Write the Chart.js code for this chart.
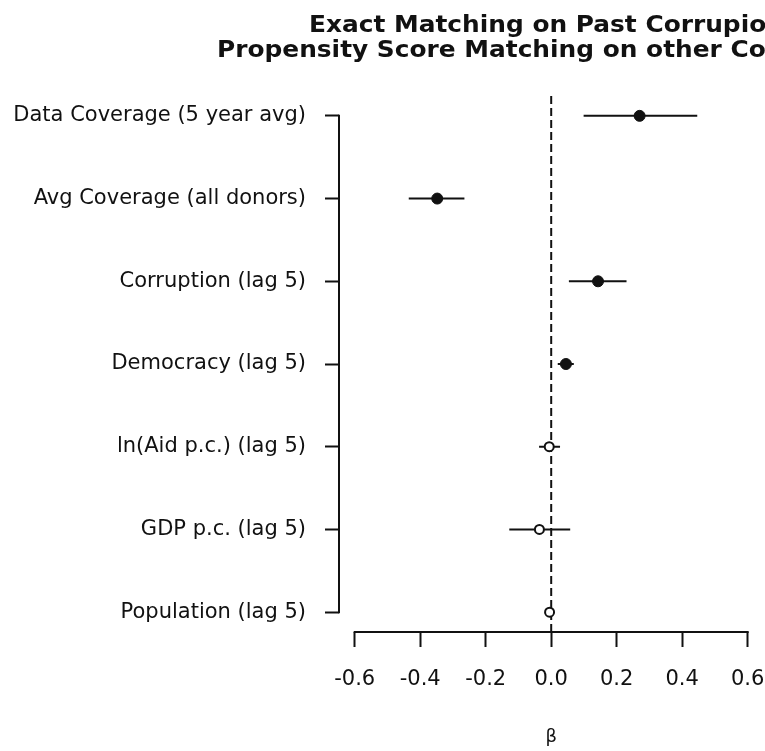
<!DOCTYPE html>
<html>
<head>
<meta charset="utf-8">
<script src="https://cdn.jsdelivr.net/npm/chart.js@4.4.1/dist/chart.umd.min.js"></script>
<style>
  html, body { margin: 0; padding: 0; background: #fff; overflow: hidden; }
  #wrap { width: 765px; height: 751px; overflow: hidden; }
</style>
</head>
<body>
<div id="wrap"><canvas id="chart" width="900" height="751"></canvas></div>
<script>
// Coeficientes (beta) e intervalos, de arriba hacia abajo
const labels = [
  'Data Coverage (5 year avg)',
  'Avg Coverage (all donors)',
  'Corruption (lag 5)',
  'Democracy (lag 5)',
  'ln(Aid p.c.) (lag 5)',
  'GDP p.c. (lag 5)',
  'Population (lag 5)'
];
const estimates = [0.27, -0.348, 0.143, 0.045, -0.006, -0.036, -0.005];
const lower = [0.099, -0.435, 0.054, 0.02, -0.037, -0.128, -0.012];
const upper = [0.446, -0.265, 0.23, 0.069, 0.027, 0.058, 0.002];
const significant = [true, true, true, true, false, false, false];
const xTicks = [-0.6, -0.4, -0.2, 0.0, 0.2, 0.4, 0.6];
const titleLines = ['Exact Matching on Past Corrupion', 'Propensity Score Matching on other Covariates'];

// rango estilo R (4% extra)
const xMin = -0.648, xMax = 0.648;
const yMin = 0.76, yMax = 7.24;

const INK = '#111';
const FONT = "'DejaVu Sans', sans-serif";

const rows = labels.map((_, i) => i + 1);

const ciSets = rows.map((y, i) => ({
  type: 'line',
  data: [{ x: lower[i], y }, { x: upper[i], y }],
  borderColor: INK,
  borderWidth: 2,
  pointRadius: 0,
  order: 2
}));

// titulo (el original va cortado a la derecha)
const titlePlugin = {
  id: 'rTitle',
  afterDraw(chart) {
    const ctx = chart.ctx;
    ctx.save();
    ctx.fillStyle = INK;
    ctx.font = `bold 23px ${FONT}`;
    ctx.textBaseline = 'alphabetic';
    [[titleLines[0], 309, 32], [titleLines[1], 217, 57]].forEach(([t, x, y]) => {
      ctx.save();
      ctx.translate(x, y);
      ctx.scale(1.08, 1);
      ctx.fillText(t, 0, 0);
      ctx.restore();
    });
    ctx.restore();
  }
};

// ejes tipo R: la linea solo cubre el rango de ticks
const axisPlugin = {
  id: 'rAxes',
  afterDraw(chart) {
    const { ctx, chartArea, scales } = chart;
    ctx.save();
    ctx.strokeStyle = INK;
    ctx.lineWidth = 2;
    ctx.lineCap = 'square';
    ctx.beginPath();
    ctx.moveTo(scales.x.getPixelForValue(xTicks[0]), chartArea.bottom);
    ctx.lineTo(scales.x.getPixelForValue(xTicks[xTicks.length - 1]), chartArea.bottom);
    ctx.moveTo(chartArea.left, scales.y.getPixelForValue(rows[0]));
    ctx.lineTo(chartArea.left, scales.y.getPixelForValue(rows[rows.length - 1]));
    ctx.stroke();
    ctx.restore();
  }
};

new Chart(document.getElementById('chart'), {
  type: 'scatter',
  data: {
    datasets: [
      {
        type: 'line',
        data: [{ x: 0, y: yMin }, { x: 0, y: yMax }],
        borderColor: INK,
        borderWidth: 2,
        borderDash: [8, 4],
        pointRadius: 0,
        order: 3
      },
      ...ciSets,
      {
        data: rows.map((y, i) => ({ x: estimates[i], y })),
        pointRadius: significant.map(s => s ? 5.5 : 4.5),
        pointBackgroundColor: significant.map(s => s ? INK : '#fff'),
        pointBorderColor: INK,
        pointBorderWidth: significant.map(s => s ? 1 : 2),
        order: 1
      }
    ]
  },
  options: {
    responsive: false,
    animation: false,
    devicePixelRatio: 1,
    layout: { padding: { left: 0, top: 96, right: 136.6, bottom: 0 } },
    plugins: {
      legend: { display: false },
      tooltip: { enabled: false }
    },
    scales: {
      x: {
        type: 'linear',
        min: xMin,
        max: xMax,
        afterBuildTicks: (s) => { s.ticks = xTicks.map(v => ({ value: v })); },
        afterFit: (s) => { s.height = 119; },
        border: { display: false },
        grid: { drawOnChartArea: false, drawTicks: true, tickLength: 15, tickColor: INK, tickWidth: 2 },
        ticks: {
          color: INK,
          font: { family: FONT, size: 21 },
          padding: 20,
          maxRotation: 0,
          callback: (v) => Number(v).toFixed(1)
        },
        title: {
          display: true,
          text: 'β',
          color: INK,
          font: { family: FONT, size: 18 },
          padding: { top: 0, bottom: 3 }
        }
      },
      y: {
        type: 'linear',
        reverse: true,
        min: yMin,
        max: yMax,
        afterBuildTicks: (s) => { s.ticks = rows.map(v => ({ value: v })); },
        afterFit: (s) => { s.width = 339; },
        border: { display: false },
        grid: { drawOnChartArea: false, drawTicks: true, tickLength: 14, tickColor: INK, tickWidth: 2 },
        ticks: {
          color: INK,
          font: { family: FONT, size: 21 },
          padding: 19,
          callback: (v) => labels[v - 1] || ''
        }
      }
    }
  },
  plugins: [titlePlugin, axisPlugin]
});
</script>
</body>
</html>
